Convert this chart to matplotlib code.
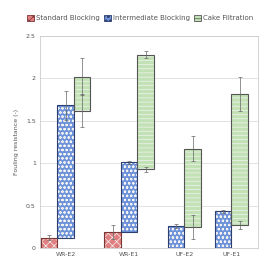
import numpy as np
import matplotlib
matplotlib.use("Agg")
import matplotlib.pyplot as plt
from matplotlib.patches import Patch

plt.rcParams["hatch.linewidth"] = 0.5

# data
categories = ["WR-E2", "WR-E1", "UF-E2", "UF-E1"]
series = ["Standard Blocking", "Intermediate Blocking", "Cake Filtration"]

# standard blocking (starts at 0), nan = not present
std_top = [0.12, 0.19, np.nan, np.nan]
std_err = [0.03, 0.08, np.nan, np.nan]

# intermediate blocking (starts where standard ends)
int_top = [1.68, 1.01, 0.26, 0.43]
int_err = [0.17, 0.02, 0.02, 0.02]

# cake filtration, floating bars
cake_bottom = [1.62, 0.93, 0.25, 0.27]
cake_bottom_err = [0.19, 0.03, 0.14, 0.05]
cake_top = [2.02, 2.28, 1.17, 1.82]
cake_top_err = [0.22, 0.04, 0.15, 0.20]

face = ["#e07f80", "#6f93d8", "#c2e2b5"]
edge = ["#7a3535", "#2f3f6e", "#555555"]
hatch = ["xxxx", "oooo", "----"]

fig = plt.figure(figsize=(2.7, 2.74), dpi=100)
ax = fig.add_axes([0.148, 0.095, 0.807, 0.774])

gap = 0.85
cursor = 0.0
centers = []
ecol = "#666666"


def draw_bar(x, bottom, top, k):
    ax.bar(x, top - bottom, bottom=bottom, width=1.0, color=face[k],
           edgecolor="#f4f4f4", hatch=hatch[k], linewidth=0, zorder=2)
    ax.bar(x, top - bottom, bottom=bottom, width=1.0, fill=False,
           edgecolor=edge[k], linewidth=0.8, zorder=3)


for i in range(len(categories)):
    xs = []
    if not np.isnan(std_top[i]):
        draw_bar(cursor, 0, std_top[i], 0)
        ax.errorbar(cursor, std_top[i], yerr=std_err[i], color=ecol,
                    lw=0.5, capsize=1.2, capthick=0.5, zorder=4)
        xs.append(cursor)
        cursor += 1
        base = std_top[i]
    else:
        base = 0.0
    draw_bar(cursor, base, int_top[i], 1)
    ax.errorbar(cursor, int_top[i], yerr=int_err[i], color=ecol,
                lw=0.5, capsize=1.2, capthick=0.5, zorder=4)
    xs.append(cursor)
    cursor += 1
    draw_bar(cursor, cake_bottom[i], cake_top[i], 2)
    ax.errorbar([cursor, cursor], [cake_bottom[i], cake_top[i]],
                yerr=[cake_bottom_err[i], cake_top_err[i]], fmt="none",
                color=ecol, lw=0.5, capsize=1.2, capthick=0.5, zorder=4)
    xs.append(cursor)
    cursor += 1
    centers.append(np.mean(xs))
    cursor += gap

ax.set_xlim(-0.56, cursor - gap - 0.5 + 0.6)
ax.set_ylim(0, 2.5)
ax.set_yticks([0, 0.5, 1, 1.5, 2, 2.5])
ax.set_yticklabels(["0", "0.5", "1", "1.5", "2", "2.5"])
ax.set_xticks(centers)
ax.set_xticklabels(categories)
ax.tick_params(labelsize=4.5, length=0, pad=3, colors="#555555")
ax.yaxis.grid(True, color="#dddddd", lw=0.6, zorder=0)
ax.set_axisbelow(True)
for s in ax.spines.values():
    s.set_color("#cccccc")
    s.set_linewidth(0.6)
ax.set_ylabel("Fouling resistance (-)", fontsize=4.5, color="#555555", labelpad=5)

handles = [Patch(facecolor=face[k], edgecolor=edge[k], hatch=hatch[k], lw=0.6)
           for k in range(3)]
fig.legend(handles, series, loc="center", bbox_to_anchor=(0.52, 0.935), ncol=3,
           frameon=False, fontsize=5, handlelength=1.0, handleheight=1.0,
           handletextpad=0.3, columnspacing=0.6, labelcolor="#555555")

fig.savefig("out.png", dpi=100)
